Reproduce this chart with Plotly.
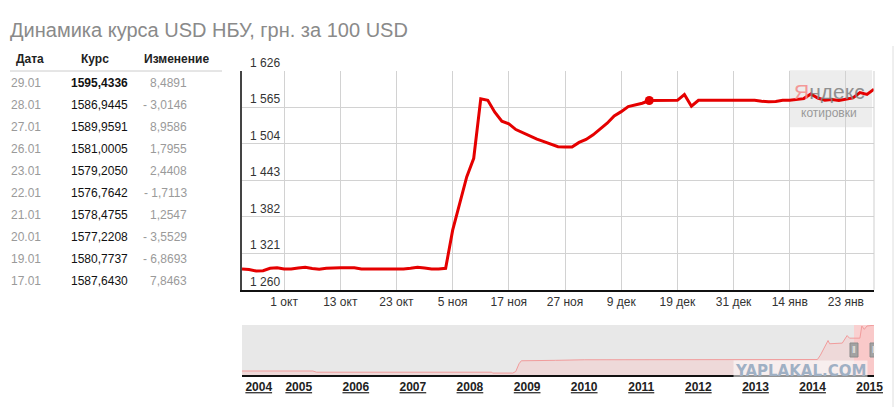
import plotly.graph_objects as go

TITLE = "Динамика курса USD НБУ, грн. за 100 USD"

# official NBU rate, UAH per 100 USD, one value per working day (23.09.2014 - 29.01.2015)
rate = [
    1294.8, 1294.0, 1291.5, 1292.0, 1296.0, 1297.0, 1295.0, 1294.8, 1296.5, 1297.5,
    1295.5, 1294.3, 1296.0, 1297.0, 1297.0, 1297.0, 1297.0, 1295.0, 1294.8, 1294.8,
    1294.8, 1294.8, 1294.8, 1294.8, 1296.0, 1297.5, 1296.5, 1295.0, 1295.0, 1296.0,
    1359.8, 1404.3, 1448.7, 1480.0, 1579.4, 1577.0, 1557.0, 1542.0, 1537.7, 1528.0,
    1522.7, 1517.0, 1512.0, 1508.0, 1503.7, 1499.3, 1498.7, 1498.7, 1506.5, 1511.5,
    1519.3, 1528.7, 1538.7, 1551.0, 1558.0, 1566.5, 1569.4, 1572.1, 1576.6, 1576.9,
    1576.9, 1576.9, 1576.9, 1586.6, 1567.0, 1576.9, 1576.9, 1576.9, 1576.9, 1576.9,
    1576.9, 1576.9, 1576.9, 1576.9, 1575.5, 1574.5, 1575.0, 1577.0, 1577.0, 1578.0,
    1579.7967, 1587.6430, 1580.7737, 1577.2208, 1578.4755, 1576.7642, 1579.2050,
    1581.0005, 1589.9591, 1586.9445, 1595.4336,
]
tick_idx = [6, 14, 22, 30, 38, 46, 54, 62, 70, 78, 86]
tick_text = ["1 окт", "13 окт", "23 окт", "5 ноя", "17 ноя", "27 ноя",
             "9 дек", "19 дек", "31 дек", "14 янв", "23 янв"]
y_ticks = [1260, 1321, 1382, 1443, 1504, 1565, 1626]
marked_idx = 58

# last ten quotes shown in the table
table_dates = ["29.01", "28.01", "27.01", "26.01", "23.01",
               "22.01", "21.01", "20.01", "19.01", "17.01"]

# navigator: whole history 2004 - 2015
nav_dates = [
    "2004-01-04", "2005-04-01", "2005-04-25", "2008-05-20", "2008-05-25",
    "2008-10-01", "2008-10-20", "2008-11-10", "2008-11-25", "2009-05-01",
    "2009-07-01", "2010-01-01", "2010-07-01", "2010-08-01", "2010-09-01",
    "2011-01-01", "2013-12-31", "2014-02-01", "2014-02-20", "2014-03-15",
    "2014-04-10", "2014-04-20", "2014-07-10", "2014-08-10", "2014-08-25",
    "2014-10-31", "2014-11-12", "2014-11-28", "2014-12-15", "2015-01-29",
]
nav_values = [
    533, 533, 505, 505, 485,
    485, 520, 700, 770, 765,
    780, 793, 793, 785, 795,
    797, 799, 799, 900, 1050,
    1240, 1165, 1180, 1355, 1295,
    1295, 1577, 1499, 1577, 1595,
]
nav_years = ["2004", "2005", "2006", "2007", "2008", "2009",
             "2010", "2011", "2012", "2013", "2014", "2015"]
nav_year_pos = ["2004-04-20"] + [y + "-01-01" for y in nav_years[1:]]
sel_start, sel_end = "2014-09-23", "2015-01-29"

W, H = 896, 407
L, R, T, B = 242, 22, 71, 32
FONT = "Liberation Sans, Arial, sans-serif"


def px_x(px):
    return (px - L) / (W - L - R)


def px_y(py):
    return (H - B - py) / (H - T - B)


def fmt(v):
    return f"{v:.4f}".replace(".", ",")


x_idx = list(range(len(rate)))

fig = go.Figure()
fig.add_trace(go.Scatter(
    x=x_idx, y=rate, mode="lines",
    line=dict(color="#e50000", width=3), hoverinfo="skip",
    xaxis="x", yaxis="y",
))
fig.add_trace(go.Scatter(
    x=[x_idx[marked_idx]], y=[rate[marked_idx]], mode="markers",
    marker=dict(color="#e50000", size=9), hoverinfo="skip",
    xaxis="x", yaxis="y",
))
fig.add_trace(go.Scatter(
    x=nav_dates, y=nav_values, mode="lines", fill="tozeroy",
    line=dict(color="#f19c9c", width=1), fillcolor="rgba(250,190,190,0.35)",
    hoverinfo="skip", xaxis="x2", yaxis="y2",
))

MAIN_TOP, MAIN_BOT = 70.8, 289.8
main_bottom = px_y(MAIN_BOT)
nav_top = px_y(325)


def dom_y(py):
    return (MAIN_BOT - py) / (MAIN_BOT - MAIN_TOP)


fig.update_layout(
    width=W, height=H,
    margin=dict(l=L, r=R, t=T, b=B, autoexpand=False),
    paper_bgcolor="white", plot_bgcolor="white",
    showlegend=False, separators=", ",
    font=dict(family=FONT, size=12, color="#333"),
    xaxis=dict(
        domain=[0, 1], range=[0, len(rate) - 1], anchor="y", automargin=False,
        tickvals=tick_idx, ticktext=tick_text, ticks="",
        showgrid=True, gridcolor="#d2d2d2", gridwidth=1,
        showline=True, linecolor="#111", linewidth=2, zeroline=False,
        tickfont=dict(size=12, color="#333"), fixedrange=True,
    ),
    yaxis=dict(
        domain=[main_bottom, 1], range=[y_ticks[0], y_ticks[-1]], anchor="x",
        automargin=False, tickvals=y_ticks, tickformat=",d", ticks="",
        ticklabelposition="inside top", ticklabelstandoff=7,
        ticklabeloverflow="allow",
        showgrid=True, gridcolor="#d2d2d2", gridwidth=1,
        showline=True, linecolor="#444", linewidth=1.5, zeroline=False,
        tickfont=dict(size=12, color="#333"), fixedrange=True,
    ),
    xaxis2=dict(
        domain=[0, 1], range=[nav_dates[0], nav_dates[-1]], anchor="y2",
        automargin=False, type="date", tickvals=nav_year_pos,
        ticktext=[f"<b><u>{y}</u></b>" for y in nav_years], ticks="",
        ticklabeloverflow="allow",
        showgrid=False, showline=True, linecolor="#111", linewidth=1.5,
        zeroline=False, tickfont=dict(size=12, color="#222"), fixedrange=True,
    ),
    yaxis2=dict(
        domain=[0, nav_top], range=[440, 1600], anchor="x2", automargin=False,
        visible=False, fixedrange=True,
    ),
)

shapes = [
    # navigator background and selected range
    dict(type="rect", xref="x2 domain", yref="y2 domain", x0=0, x1=1, y0=0, y1=1,
         fillcolor="#e8e8e8", line=dict(width=0), layer="below"),
    dict(type="rect", xref="x2", yref="y2 domain", x0=sel_start, x1=sel_end, y0=0, y1=1,
         fillcolor="rgba(255,200,200,0.75)", line=dict(width=0), layer="below"),
    # Yandex logo plate
    dict(type="rect", xref="x domain", yref="y domain", x0=0.866, x1=0.997,
         y0=dom_y(127), y1=dom_y(70), fillcolor="#ededed",
         line=dict(width=0), layer="below"),
    # right border of the main plot
    dict(type="line", xref="x domain", yref="y domain", x0=1, x1=1, y0=0, y1=1,
         line=dict(color="#cfcfcf", width=1)),
    # widget border on the right
    dict(type="line", xref="paper", yref="paper", x0=px_x(893), x1=px_x(893),
         y0=px_y(46), y1=px_y(407), line=dict(color="#dedede", width=1)),
    # table header underline
    dict(type="line", xref="paper", yref="paper", x0=px_x(10), x1=px_x(222),
         y0=px_y(71), y1=px_y(71), line=dict(color="#cccccc", width=1)),
]
# navigator handles
for d in (sel_start, sel_end):
    shapes.append(dict(
        type="rect", xref="x2", yref="y2 domain", xsizemode="pixel", xanchor=d,
        x0=-4, x1=4, y0=0.36, y1=0.64, fillcolor="#a2a2a2",
        line=dict(color="#8c8c8c", width=1), layer="above",
    ))
fig.update_layout(shapes=shapes)

ann = [
    dict(text=TITLE, x=px_x(8), y=px_y(30), xanchor="left", yanchor="middle",
         font=dict(size=20, color="#8a8a8a")),
    dict(text="<b>Дата</b>", x=px_x(14), y=px_y(59), xanchor="left", yanchor="middle",
         font=dict(size=12, color="#222")),
    dict(text="<b>Курс</b>", x=px_x(79), y=px_y(59), xanchor="left", yanchor="middle",
         font=dict(size=12, color="#222")),
    dict(text="<b>Изменение</b>", x=px_x(142), y=px_y(59), xanchor="left",
         yanchor="middle", font=dict(size=12, color="#222")),
    # Yandex quotes logo
    dict(text="<span style='color:#f58a8a'>Я</span>ндекс", x=px_x(829), y=px_y(91),
         xanchor="center", yanchor="middle", opacity=0.85,
         font=dict(size=21, color="#808080")),
    dict(text="котировки", x=px_x(829), y=px_y(113), xanchor="center",
         yanchor="middle", font=dict(size=12, color="#9a9a9a")),
]
last = rate[-len(table_dates) - 1:]
for k, d in enumerate(table_dates):
    cur = last[-1 - k]
    prev = last[-2 - k]
    diff = cur - prev
    diff_txt = fmt(diff) if diff >= 0 else "- " + fmt(-diff)
    rate_txt = f"<b>{fmt(cur)}</b>" if k == 0 else fmt(cur)
    ry = px_y(83.3 + k * 21.93)
    ann.append(dict(text=d, x=px_x(9), y=ry, xanchor="left", yanchor="middle",
                    font=dict(size=12, color="#9a9a9a")))
    ann.append(dict(text=rate_txt, x=px_x(69), y=ry, xanchor="left", yanchor="middle",
                    font=dict(size=12, color="#111")))
    ann.append(dict(text=diff_txt, x=px_x(189), y=ry, xanchor="right", yanchor="middle",
                    font=dict(size=12, color="#9a9a9a")))
for d in (sel_start, sel_end):
    ann.append(dict(text="ǁ", x=d, y=0.5, xref="x2", yref="y2 domain",
                    font=dict(size=9, color="#f4f4f4")))
# site watermark over the screenshot
ann.append(dict(text="<b>YAPLAKAL.COM</b>", x=px_x(800), y=px_y(371),
                xanchor="center", yanchor="middle",
                font=dict(family="DejaVu Sans, sans-serif", size=15, color="#9fb0c4"),
                bgcolor="rgba(255,255,255,0.55)", borderpad=1))
for a in ann:
    a.setdefault("xref", "paper")
    a.setdefault("yref", "paper")
    a["showarrow"] = False
fig.update_layout(annotations=ann)

# the page body has a default 8px margin; drop it so the figure sits at the corner
fig.write_html("out.html", config={"displayModeBar": False},
               post_script="document.body.style.margin='0';")
